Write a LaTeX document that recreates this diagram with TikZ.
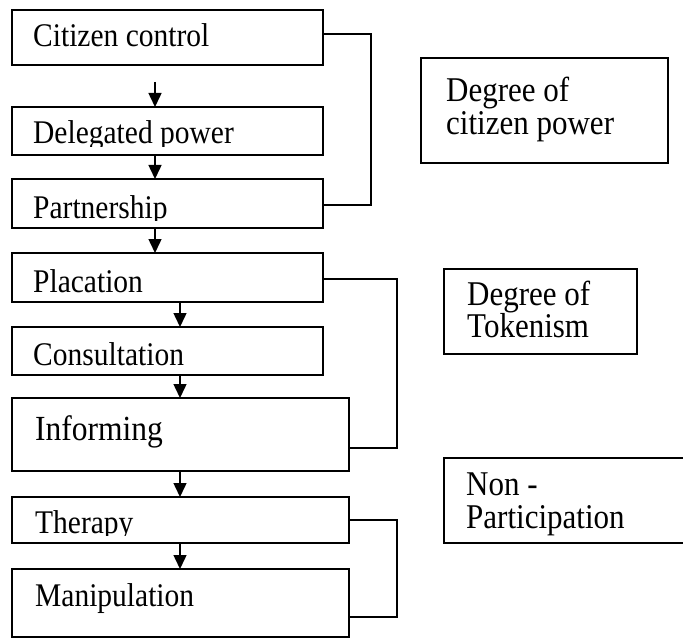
\documentclass[tikz,border=0pt]{standalone}
\usepackage{fontspec}
\setmainfont{Liberation Serif}
\usetikzlibrary{arrows.meta}
\newcommand{\vstretch}[1]{\scalebox{1}[1.12]{#1}}
\begin{document}
\begin{tikzpicture}[x=1bp,y=-1bp,
  box/.style={draw=black, line width=1.5bp, rectangle, inner sep=0pt, outer sep=0pt, anchor=north west},
  lbl/.style={anchor=base west, inner sep=0pt, font=\fontsize{29.5bp}{33bp}\selectfont},
  rlbl/.style={anchor=base west, inner sep=0pt, font=\fontsize{31bp}{33bp}\selectfont},
  arr/.style={line width=1.5bp, -{Triangle[length=14bp,width=13bp]}},
  link/.style={line width=1.5bp}]
\useasboundingbox (0,0) rectangle (683,639);
\fill[white] (0,0) rectangle (683,639);

% left ladder boxes
\node[box, minimum width=311bp, minimum height=55bp] (cc) at (12,10) {};
\node[box, minimum width=311bp, minimum height=48bp] (dp) at (12,107) {};
\node[box, minimum width=311bp, minimum height=49bp] (pa) at (12,179) {};
\node[box, minimum width=311bp, minimum height=49bp] (pl) at (12,253) {};
\node[box, minimum width=311bp, minimum height=48bp] (co) at (12,327) {};
\node[box, minimum width=337bp, minimum height=73bp] (inf) at (12,398) {};
\node[box, minimum width=337bp, minimum height=46bp] (th) at (12,497) {};
\node[box, minimum width=337bp, minimum height=68bp] (ma) at (12,569) {};

% right category boxes
\node[box, minimum width=247bp, minimum height=105bp] (r1) at (421,58) {};
\node[box, minimum width=193bp, minimum height=85bp] (r2) at (444,269) {};
\node[box, minimum width=250bp, minimum height=85bp] (r3) at (444,458) {};

% labels
\node[lbl] (tcc) at (33,47) {\vstretch{Citizen control}};
\begin{scope}
  \clip (12,100) rectangle (323,147);
  \node[lbl] (tdp) at (33,144) {\vstretch{Delegated power}};
\end{scope}
\begin{scope}
  \clip (12,175) rectangle (323,220);
  \node[lbl] (tpa) at (33,218) {\vstretch{Partnership}};
\end{scope}
\node[lbl] (tpl) at (33,292) {\vstretch{Placation}};
\node[lbl] (tco) at (33,365) {\vstretch{Consultation}};
\node[lbl, font=\fontsize{31.5bp}{33bp}\selectfont] (tinf) at (35,440) {\vstretch{Informing}};
\begin{scope}
  \clip (12,490) rectangle (349,535);
  \node[lbl] (tth) at (35,533) {\vstretch{Therapy}};
\end{scope}
\node[lbl] (tma) at (35,606) {\vstretch{Manipulation}};

\node[rlbl] (tr1a) at (446,102) {\vstretch{Degree of}};
\node[rlbl] (tr1b) at (446,135) {\vstretch{citizen power}};
\node[rlbl] (tr2a) at (467,305) {\vstretch{Degree of}};
\node[rlbl] (tr2b) at (467,337) {\vstretch{Tokenism}};
\node[rlbl] (tr3a) at (466,495) {\vstretch{Non -}};
\node[rlbl] (tr3b) at (466,528) {\vstretch{Participation}};

% arrows
\draw[arr, shorten <=17bp] ([xshift=143bp]cc.south west) -- ([xshift=143bp]dp.north west);
\draw[arr] ([xshift=143bp]dp.south west) -- ([xshift=143bp]pa.north west);
\draw[arr] ([xshift=143bp]pa.south west) -- ([xshift=143bp]pl.north west);
\draw[arr] ([xshift=168bp]pl.south west) -- ([xshift=168bp]co.north west);
\draw[arr] ([xshift=168bp]co.south west) -- ([xshift=168bp]inf.north west);
\draw[arr] ([xshift=168bp]inf.south west) -- ([xshift=168bp]th.north west);
\draw[arr] ([xshift=168bp]th.south west) -- ([xshift=168bp]ma.north west);

% brackets
\draw[link] ([yshift=3.5bp]cc.east) -- ++(48,0) |- ([yshift=-1.5bp]pa.east);
\draw[link] ([yshift=-1.5bp]pl.east) -- ++(74,0) |- ([yshift=-13.5bp]inf.east);
\draw[link] (th.east) -- ++(48,0) |- ([yshift=-14bp]ma.east);
\end{tikzpicture}
\end{document}
